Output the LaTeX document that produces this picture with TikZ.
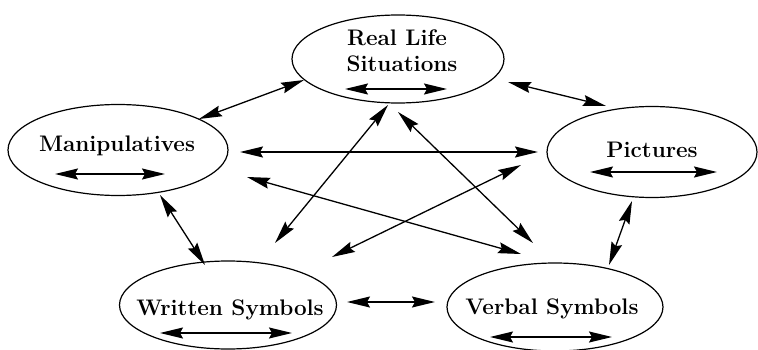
\documentclass[tikz,border=0pt]{standalone}
\usepackage{fontspec}
\usetikzlibrary{shapes.geometric,arrows.meta}
\begin{document}
\begin{tikzpicture}[x=1pt,y=-1pt,
  oval/.style={draw, ellipse, line width=1.2pt, inner sep=0pt},
  lbl/.style={font=\fontsize{22.5}{26}\selectfont\bfseries, inner sep=0pt},
  tip/.tip={Stealth[length=23pt,width=11pt,inset=3pt]},
  link/.style={line width=1.3pt, tip-tip}]
\useasboundingbox (0,0) rectangle (758,350);
% ellipses
\node[oval, minimum width=212pt, minimum height=88pt] (rls) at (398,59) {};
\node[oval, minimum width=220pt, minimum height=91pt] (man) at (118,150) {};
\node[oval, minimum width=210pt, minimum height=91pt] (pic) at (652,152) {};
\node[oval, minimum width=217pt, minimum height=88pt] (wri) at (228,305) {};
\node[oval, minimum width=216pt, minimum height=88pt] (ver) at (555,307) {};
% labels
\node[lbl] (rlsA) at (397,38) {Real Life};
\node[lbl] (rlsB) at (402,64) {Situations};
\node[lbl] (manT) at (117,146) {Manipulatives};
\node[lbl] (picT) at (652,150) {Pictures};
\node[lbl] (wriT) at (230,310) {Written Symbols};
\node[lbl] (verT) at (552,309) {Verbal Symbols};
% inner arrow ends
\coordinate (rlsL) at (345,89);  \coordinate (rlsR) at (447,89);
\coordinate (manL) at (55,174);  \coordinate (manR) at (165,174);
\coordinate (picL) at (590,172); \coordinate (picR) at (717,172);
\coordinate (wriL) at (160,333); \coordinate (wriR) at (292,333);
\coordinate (verL) at (490,337); \coordinate (verR) at (612,337);
\draw[link] (rlsL) -- (rlsR);
\draw[link] (manL) -- (manR);
\draw[link] (picL) -- (picR);
\draw[link] (wriL) -- (wriR);
\draw[link] (verL) -- (verR);
% connector ends
\coordinate (a1) at (199,119); \coordinate (b1) at (304,80);
\coordinate (a2) at (508,82);  \coordinate (b2) at (606,106);
\coordinate (a3) at (160,195); \coordinate (b3) at (205,265);
\coordinate (a4) at (347,302); \coordinate (b4) at (435,302);
\coordinate (a5) at (609,265); \coordinate (b5) at (632,201);
\coordinate (a6) at (240,152); \coordinate (b6) at (538,152);
\coordinate (a7) at (247,177); \coordinate (b7) at (521,254);
\coordinate (a8) at (388,105); \coordinate (b8) at (275,243);
\coordinate (a9) at (398,112); \coordinate (b9) at (533,243);
\coordinate (a10) at (521,165); \coordinate (b10) at (332,257);
\draw[link] (a1) -- (b1);
\draw[link] (a2) -- (b2);
\draw[link] (a3) -- (b3);
\draw[link] (a4) -- (b4);
\draw[link] (a5) -- (b5);
\draw[link] (a6) -- (b6);
\draw[link] (a7) -- (b7);
\draw[link] (a8) -- (b8);
\draw[link] (a9) -- (b9);
\draw[link] (a10) -- (b10);
\end{tikzpicture}
\end{document}
